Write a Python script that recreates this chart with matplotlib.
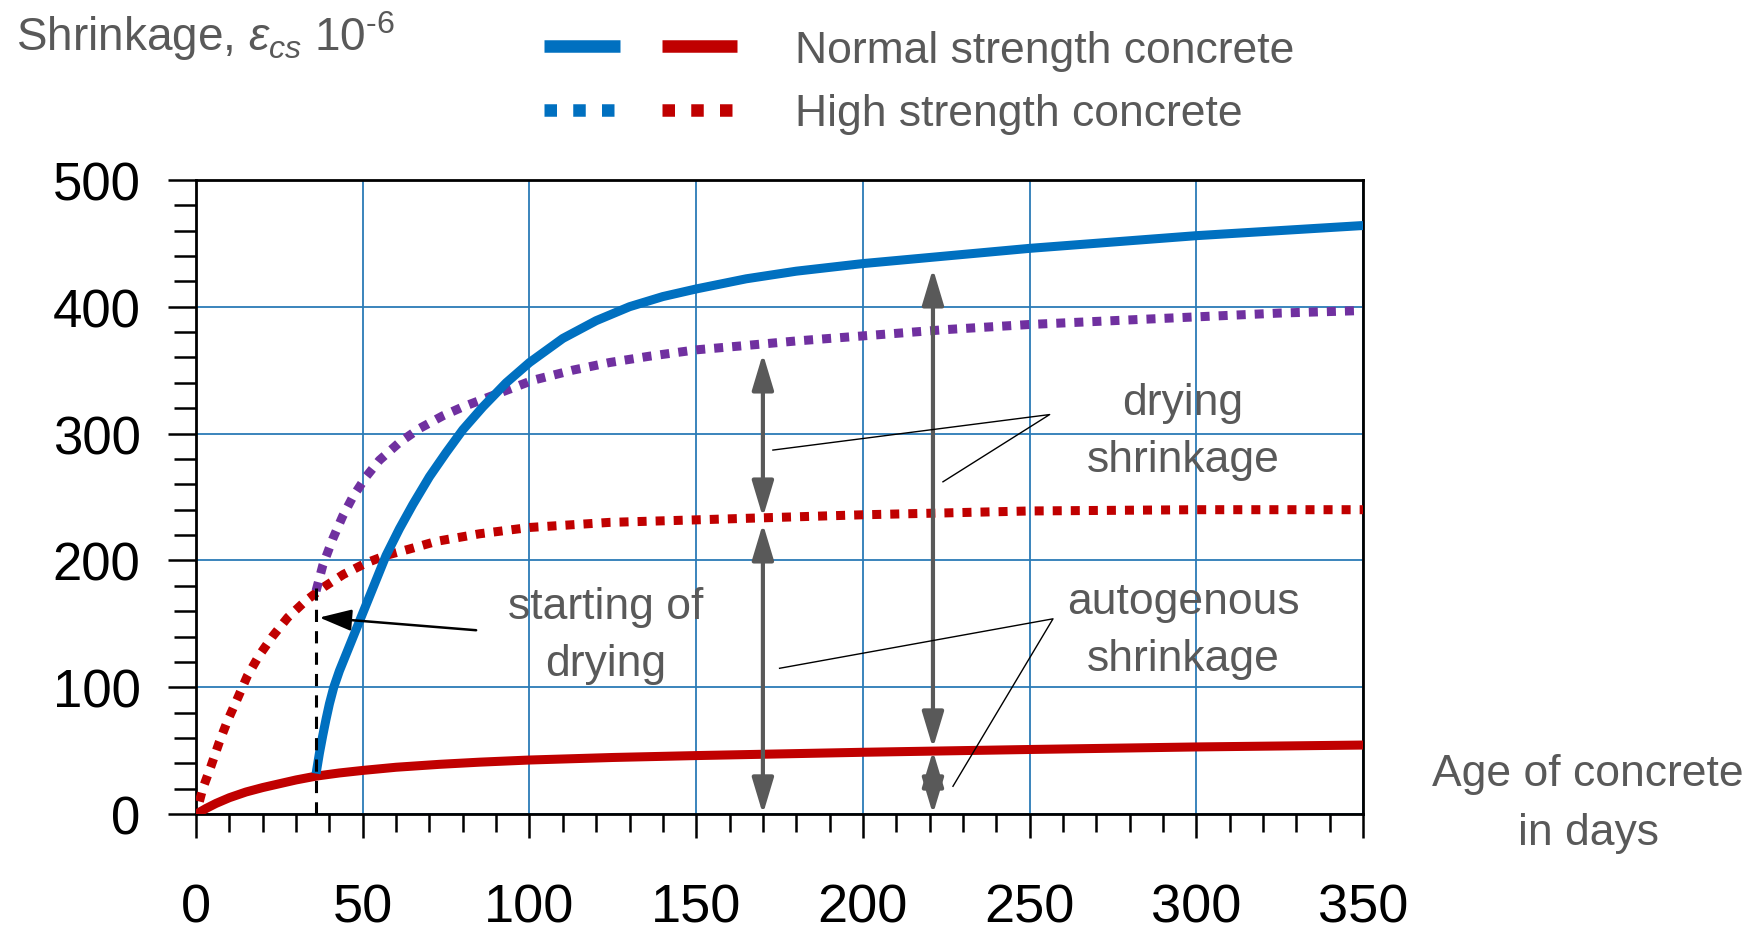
import matplotlib
matplotlib.use("Agg")
import matplotlib.pyplot as plt
from matplotlib.lines import Line2D
from matplotlib.legend_handler import HandlerTuple

plt.rcParams['font.family'] = ['Liberation Sans Narrow', 'Liberation Sans', 'DejaVu Sans']
plt.rcParams['mathtext.fontset'] = 'custom'
plt.rcParams['mathtext.rm'] = 'Liberation Sans'
plt.rcParams['mathtext.it'] = 'Liberation Sans:italic'

# normal strength concrete, total (drying starts at day 36)
nsc_total_days = [36, 37, 38, 39, 40, 41.3, 43, 45, 49, 53, 57, 61, 65, 70, 75, 80, 86, 93, 100, 110, 120, 130,
                  140, 150, 165, 180, 200, 225, 250, 300, 350]
nsc_total_vals = [32, 48, 62, 75, 87, 100, 113, 126, 152, 178, 204, 225, 244, 266, 285, 303, 321, 340, 356, 375,
                  389, 400, 408, 414, 422, 428, 434, 440, 446, 456, 464]

# normal strength concrete, autogenous
nsc_auto_days = [0, 3, 6, 10, 15, 20, 25, 30, 36, 43, 50, 60, 73, 85, 100, 125, 150, 200, 250, 300, 350]
nsc_auto_vals = [0, 4.5, 8.5, 13, 17.5, 21, 24, 27, 30, 32.5, 34.5, 37, 39.3, 41, 42.7, 44.7, 46.2, 48.8, 51, 53, 54.5]

# high strength concrete, total
hsc_total_days = [36, 38, 41, 44, 47, 51, 55, 61, 67, 74, 80, 87, 94, 101, 113, 124, 136, 150, 163, 180, 200, 225,
                  250, 275, 300, 325, 350]
hsc_total_vals = [176, 196, 217, 235, 250, 266, 279, 293, 304, 314, 321, 328, 335, 342, 350, 356, 361, 366, 369, 373,
                  377, 382, 386, 389, 392, 395, 397]

# high strength concrete, autogenous
hsc_auto_days = [1, 2, 4.5, 7, 9.5, 12.4, 15.4, 18.9, 22.9, 27.5, 32.8, 38.3, 44.2, 51, 57, 64, 72, 85, 100, 124,
                 150, 200, 250, 300, 350]
hsc_auto_vals = [10, 20, 38, 57, 74, 91, 109, 125, 140, 155, 168, 179, 189, 198, 204, 209, 215, 221, 226, 230,
                 232, 236, 239, 240, 240]

drying_start = 36
x_ticks = [0, 50, 100, 150, 200, 250, 300, 350]
y_ticks = [0, 100, 200, 300, 400, 500]

blue = '#0070c0'
red = '#c00000'
purple = '#7030a0'
grey = '#595959'
gridc = '#2b7bb6'

fig = plt.figure(figsize=(17.55, 9.37), dpi=100)
ax = fig.add_axes([0.1117, 0.130, 0.665, 0.677])

ax.set_xlim(0, 350)
ax.set_ylim(0, 500)
ax.set_xticks(x_ticks)
ax.set_yticks(y_ticks)
ax.set_xticks(range(0, 351, 10), minor=True)
ax.set_yticks(range(0, 501, 20), minor=True)
ax.grid(True, which='major', color=gridc, lw=1.3, zorder=0)
ax.tick_params(axis='y', which='major', length=20, width=1.8, labelsize=38, pad=20)
ax.tick_params(axis='y', which='minor', length=16, width=1.8)
ax.tick_params(axis='x', which='major', length=17, width=1.8, labelsize=39, pad=32)
ax.tick_params(axis='x', which='minor', length=13, width=1.8)
for s in ax.spines.values():
    s.set_linewidth(2)

dot = (0, (1, 1))
ax.plot(nsc_auto_days, nsc_auto_vals, color=red, lw=6.5, solid_capstyle='butt', zorder=4)
ax.plot(hsc_auto_days, hsc_auto_vals, color=red, lw=6.5, ls=dot, dash_capstyle='butt', zorder=3)
ax.plot(hsc_total_days, hsc_total_vals, color=purple, lw=6.5, ls=dot, dash_capstyle='butt', zorder=3)
ax.plot(nsc_total_days, nsc_total_vals, color=blue, lw=6.5, solid_capstyle='butt', zorder=4)

# start of drying
ax.plot([drying_start, drying_start], [0, 178], color='black', lw=2.2, ls=(0, (4, 3)), zorder=5)
ax.annotate('', xy=(37, 155), xytext=(84, 145),
            arrowprops=dict(arrowstyle='-|>,head_length=0.9,head_width=0.3', color='black',
                            lw=1.8, mutation_scale=22, shrinkA=0, shrinkB=0), zorder=6)

# double arrows
arr = dict(arrowstyle='<|-|>,head_length=1.0,head_width=0.3', color=grey, lw=3,
           mutation_scale=22, shrinkA=0, shrinkB=0)
ax.annotate('', xy=(170, 0), xytext=(170, 229), arrowprops=arr, zorder=6)
ax.annotate('', xy=(170, 234), xytext=(170, 363), arrowprops=arr, zorder=6)
ax.annotate('', xy=(221, 0), xytext=(221, 50), arrowprops=arr, zorder=6)
ax.annotate('', xy=(221, 52), xytext=(221, 430), arrowprops=arr, zorder=6)

# leader lines
ax.plot([173, 256, 224], [287, 315, 262], color='black', lw=1, zorder=6)
ax.plot([175, 257, 227], [115, 154, 22], color='black', lw=1, zorder=6)

tk = dict(color=grey, fontsize=32, ha='center', va='center', linespacing=1.5, zorder=7)
ax.text(296, 302, 'drying\nshrinkage', **tk)
ax.text(296, 145, 'autogenous\nshrinkage', **tk)
ax.text(123, 141, 'starting of\ndrying', **tk)

fig.text(0.009, 0.99, r'Shrinkage, $\varepsilon_{cs}$ 10$^{\text{-6}}$', color=grey, fontsize=33,
         ha='left', va='top')
fig.text(0.905, 0.142, 'Age of concrete\nin days', color=grey, fontsize=32,
         ha='center', va='center', linespacing=1.55)

h_ns = (Line2D([], [], color=blue, lw=9, solid_capstyle='butt'),
        Line2D([], [], color=red, lw=9, solid_capstyle='butt'))
h_hs = (Line2D([], [], color=blue, lw=9, ls=(0, (1, 1.3)), dash_capstyle='butt'),
        Line2D([], [], color=red, lw=9, ls=(0, (1, 1.3)), dash_capstyle='butt'))
leg = fig.legend([h_ns, h_hs], ['Normal strength concrete', 'High strength concrete'],
                 handler_map={tuple: HandlerTuple(ndivide=None, pad=0.95)},
                 loc='upper left', bbox_to_anchor=(0.31, 0.967), frameon=False,
                 fontsize=32, handlelength=4.35, handletextpad=1.3, labelspacing=0.5,
                 borderpad=0, borderaxespad=0)
for t in leg.get_texts():
    t.set_color(grey)

fig.savefig('out.png', dpi=100)
